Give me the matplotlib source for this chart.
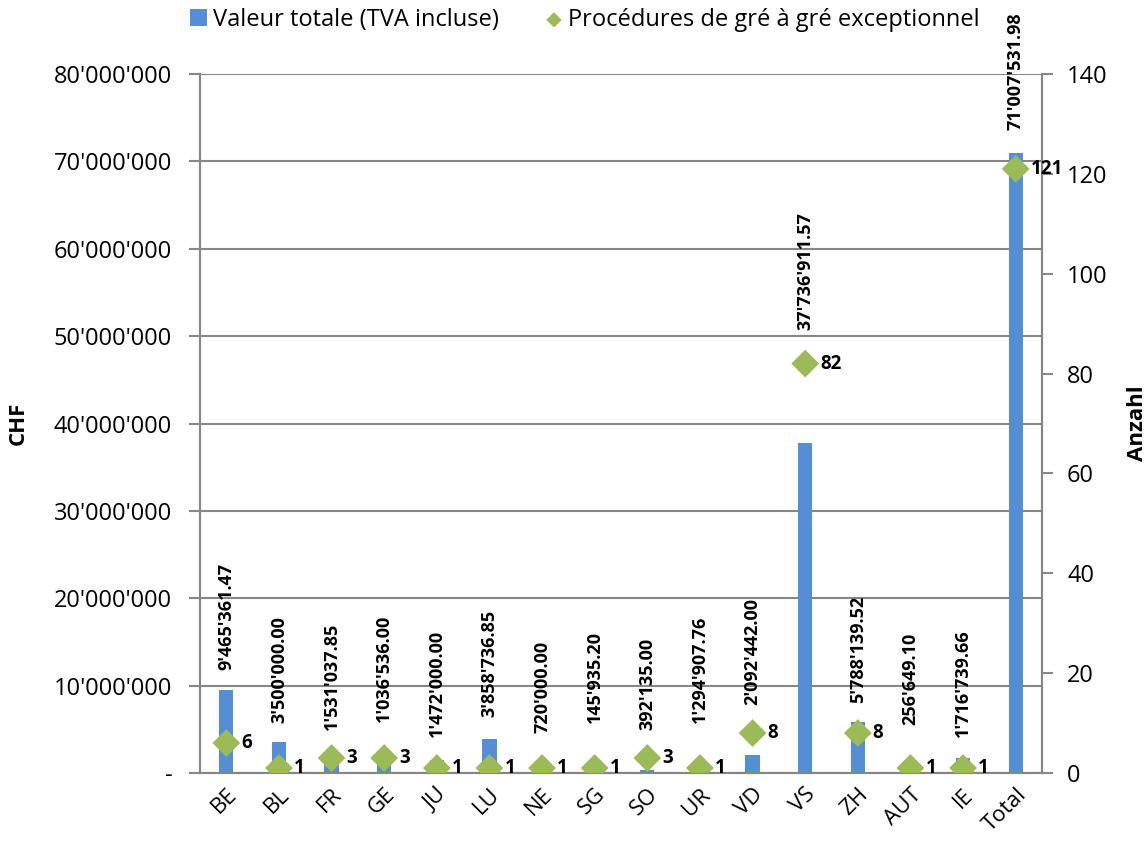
import matplotlib
matplotlib.use("Agg")
import matplotlib.pyplot as plt
from matplotlib.ticker import FuncFormatter, MultipleLocator

plt.rcParams['font.family'] = ['Open Sans', 'DejaVu Sans']

cantons = ["BE", "BL", "FR", "GE", "JU", "LU", "NE", "SG", "SO", "UR",
           "VD", "VS", "ZH", "AUT", "IE", "Total"]
valeur_totale = [9465361.47, 3500000.00, 1531037.85, 1036536.00, 1472000.00,
                 3858736.85, 720000.00, 145935.20, 392135.00, 1294907.76,
                 2092442.00, 37736911.57, 5788139.52, 256649.10, 1716739.66,
                 71007531.98]
procedures = [6, 1, 3, 3, 1, 1, 1, 1, 3, 1, 8, 82, 8, 1, 1, 121]

BLUE = "#558ED5"
GREEN = "#9BBB59"
GRID = "#868686"

LEFT_MAX = 80_000_000
RIGHT_MAX = 140

def swiss(v):
    s = f"{v:,.2f}"
    return s.replace(",", "'")

fig = plt.figure(figsize=(11.46, 8.44), dpi=100)
ax = fig.add_axes([200 / 1146, 1 - 773 / 844, 842 / 1146, 699 / 844])
ax2 = ax.twinx()

x = list(range(len(cantons)))
bars = ax.bar(x, valeur_totale, width=0.27, color=BLUE, zorder=3,
              label="Valeur totale (TVA incluse)")
ax.set_xlim(-0.5, len(cantons) - 0.5)
ax.set_ylim(0, LEFT_MAX)
ax.yaxis.set_major_locator(MultipleLocator(10_000_000))
ax.yaxis.set_major_formatter(FuncFormatter(
    lambda v, p: "-" if v == 0 else f"{int(v):,}".replace(",", "'")))
ax.grid(axis="y", color=GRID, linewidth=1.5, zorder=0)
ax.set_axisbelow(True)

ax2.set_ylim(0, RIGHT_MAX)
ax2.yaxis.set_major_locator(MultipleLocator(20))
diam = ax2.scatter(x, procedures, marker="D", s=200, color=GREEN, zorder=5,
                   label="Procédures de gré à gré exceptionnel",
                   edgecolors="none")

for a in (ax, ax2):
    for side, sp in a.spines.items():
        sp.set_color(GRID)
        sp.set_linewidth(1.5)
    a.spines["top"].set_visible(False)

ax.tick_params(axis="y", direction="out", length=8, width=1.5, color=GRID,
               labelsize=17, pad=12)
ax2.tick_params(axis="y", direction="out", length=8, width=1.5, color=GRID,
                labelsize=17, pad=10)
ax.tick_params(axis="x", length=0, labelsize=16, pad=8)
ax.set_xticks(x)
ax.set_xticklabels(cantons, rotation=45, ha="right", va="top",
                   rotation_mode="anchor")

ax.set_ylabel("CHF", fontsize=16, fontweight="bold", labelpad=18)
ax2.set_ylabel("Anzahl", fontsize=16, fontweight="bold", labelpad=14)

# value labels above bars / markers
label_gap = [20, 19, 28, 36, 23, 22, 34, 45, 28, 39, 28, 34, 19, 43, 21, 23]
for i, (v, n) in enumerate(zip(valeur_totale, procedures)):
    top = max(v, n * LEFT_MAX / RIGHT_MAX)
    ax.annotate(swiss(v), (i, top), xytext=(0, label_gap[i]),
                textcoords="offset pixels", rotation=90, ha="center",
                va="bottom", fontsize=13, fontweight="bold", zorder=6,
                annotation_clip=False)

for i, n in enumerate(procedures):
    ax2.annotate(str(n), (i, n), xytext=(15, 0), textcoords="offset pixels",
                 ha="left", va="center", fontsize=13.5, fontweight="bold",
                 zorder=6)

handles = [bars, diam]
fig.legend(handles, [h.get_label() for h in handles], loc="center",
           bbox_to_anchor=(585 / 1146, 1 - 20 / 844), ncol=2, frameon=False,
           fontsize=17, handlelength=0.7, handletextpad=0.25, columnspacing=2.0,
           markerscale=0.55)

fig.savefig("out.png", dpi=100)
